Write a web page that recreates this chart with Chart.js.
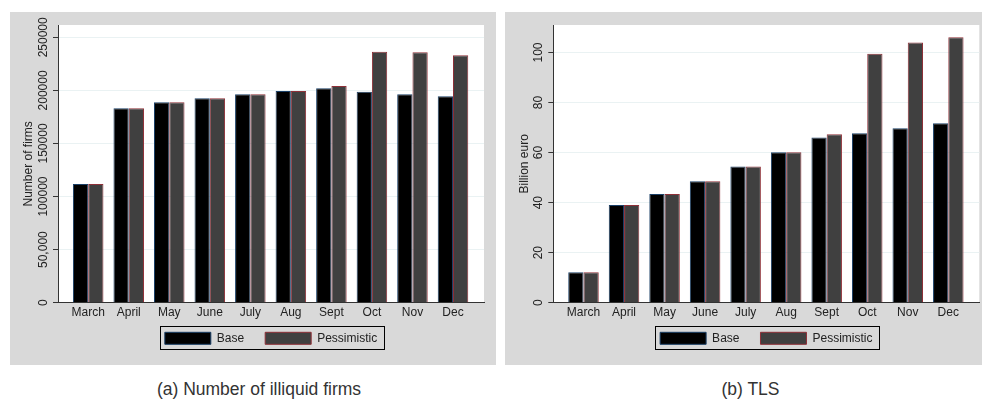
<!DOCTYPE html>
<html><head><meta charset="utf-8">
<script src="https://cdn.jsdelivr.net/npm/chart.js@4.4.1/dist/chart.umd.min.js"></script>
<style>
html,body{margin:0;padding:0;background:#fff;width:982px;height:400px;overflow:hidden;font-family:"Liberation Sans",Arial,sans-serif;}
.panel{position:absolute;top:12px;height:353px;}
#pa{left:10px;width:486px;}
#pb{left:505px;width:477px;}
canvas{display:block;}
.cap{position:absolute;top:379px;font-size:17.5px;line-height:20px;color:#333;text-align:center;}
#capa{left:16px;width:486px;}
#capb{left:512px;width:477px;}
</style></head><body>
<div class="panel" id="pa"><canvas id="ca" width="486" height="353"></canvas></div>
<div class="panel" id="pb"><canvas id="cb" width="477" height="353"></canvas></div>
<div class="cap" id="capa">(a) Number of illiquid firms</div>
<div class="cap" id="capb">(b) TLS</div>
<script>
// ---- data ----
const months = ['March','April','May','June','July','Aug','Sept','Oct','Nov','Dec'];
const seriesNames = ['Base','Pessimistic'];
const firmsBase = [111800,183100,188800,192500,196300,199400,202000,198800,196300,194400];
const firmsPess = [111800,183100,188800,192500,196300,199400,204100,236400,235900,233000];
const tlsBase = [12.2,39.1,43.4,48.5,54.4,60.1,66.0,67.7,69.7,71.7];
const tlsPess = [12.2,39.1,43.4,48.5,54.4,60.1,67.3,99.5,104.0,106.1];
const firmsTickValues = [0,50000,100000,150000,200000,250000];
const firmsTickLabels = ['0','50,000','100000','150000','200000','250000'];
const tlsTickValues = [0,20,40,60,80,100];
const tlsTickLabels = ['0','20','40','60','80','100'];

Chart.defaults.font.family = '"Liberation Sans", Arial, sans-serif';
Chart.defaults.font.size = 12;
Chart.defaults.color = '#222';

const LEGEND_SHIFT = -8.4;
const bgPlugin = {
  id: 'bg',
  afterUpdate(chart) {
    const lg = chart.legend;
    if (!lg) return;
    lg.top += LEGEND_SHIFT;
    lg.bottom += LEGEND_SHIFT;
    for (const hb of lg.legendHitBoxes) hb.top += LEGEND_SHIFT;
  },
  beforeDraw(chart) {
    const {ctx, chartArea: a, width, height} = chart;
    ctx.save();
    ctx.fillStyle = '#d9d9d9';
    ctx.fillRect(0, 0, width, height);
    ctx.fillStyle = '#ffffff';
    ctx.fillRect(a.left, a.top, a.right - a.left, a.bottom - a.top);
    ctx.restore();
  },
  afterDraw(chart) {
    const hb = chart.legend && chart.legend.legendHitBoxes;
    if (!hb || !hb.length) return;
    const first = hb[0], last = hb[hb.length - 1];
    const l = Math.round(first.left - 5) + 0.5;
    const r = Math.round(last.left + last.width + 7) + 0.5;
    const t = Math.round(first.top - 6) + 0.5;
    const b = Math.round(first.top + 12 + 5) + 0.5;
    const ctx = chart.ctx;
    ctx.save();
    ctx.strokeStyle = '#000';
    ctx.lineWidth = 1;
    ctx.strokeRect(l, t, r - l, b - t);
    ctx.restore();
  }
};

function makeChart(id, base, pess, yMax, yTicks, yLabels, yTitle, yWidth, padRight, tickPad, titlePad) {
  return new Chart(document.getElementById(id), {
    type: 'bar',
    data: {
      labels: months.map((m, i) => i),
      datasets: [
        {label: seriesNames[0], data: base, backgroundColor: '#000000', borderColor: '#1a3f66', borderWidth: 1},
        {label: seriesNames[1], data: pess, backgroundColor: '#404040', borderColor: '#8e3038', borderWidth: 1}
      ]
    },
    options: {
      responsive: false,
      animation: false,
      devicePixelRatio: 1,
      layout: {padding: {left: 0, right: padRight, top: 13, bottom: 2.3}},
      datasets: {bar: {categoryPercentage: 0.753, barPercentage: 1.0}},
      scales: {
        x: {
          type: 'linear',
          min: -0.745,
          max: 9.765,
          offset: false,
          grid: {display: false, offset: false, drawTicks: false},
          border: {display: true, color: '#333', width: 1},
          ticks: {
            stepSize: 1,
            includeBounds: false,
            autoSkip: false,
            maxRotation: 0,
            padding: 3,
            color: '#222',
            callback: (v) => (Number.isInteger(v) && months[v] !== undefined) ? months[v] : ''
          },
          afterFit(s) { s.height = 17; }
        },
        y: {
          min: 0,
          max: yMax,
          grid: {color: '#eaf2f3', lineWidth: 1, drawTicks: true, tickLength: 5, tickColor: '#333'},
          border: {display: true, color: '#333', width: 1},
          afterBuildTicks(s) { s.ticks = yTicks.map(v => ({value: v})); },
          ticks: {
            autoSkip: false,
            minRotation: 90,
            maxRotation: 90,
            crossAlign: 'center',
            padding: tickPad,
            color: '#222',
            callback: (v, i) => yLabels[yTicks.indexOf(v)]
          },
          title: {display: true, text: yTitle, color: '#222', font: {size: 12}, padding: {top: titlePad, bottom: 0}},
          afterFit(s) { s.width = yWidth; }
        }
      },
      plugins: {
        legend: {
          position: 'bottom',
          fullSize: false,
          labels: {boxWidth: 46, boxHeight: 12, padding: 21, color: '#222', font: {size: 12}}
        },
        tooltip: {enabled: false}
      }
    },
    plugins: [bgPlugin]
  });
}

makeChart('ca', firmsBase, firmsPess, 261600, firmsTickValues, firmsTickLabels, 'Number of firms', 48, 12, -10.8, 11.8);
makeChart('cb', tlsBase, tlsPess, 111, tlsTickValues, tlsTickLabels, 'Billion euro', 48.3, 2.7, -0.5, 12.5);
</script>
</body></html>
